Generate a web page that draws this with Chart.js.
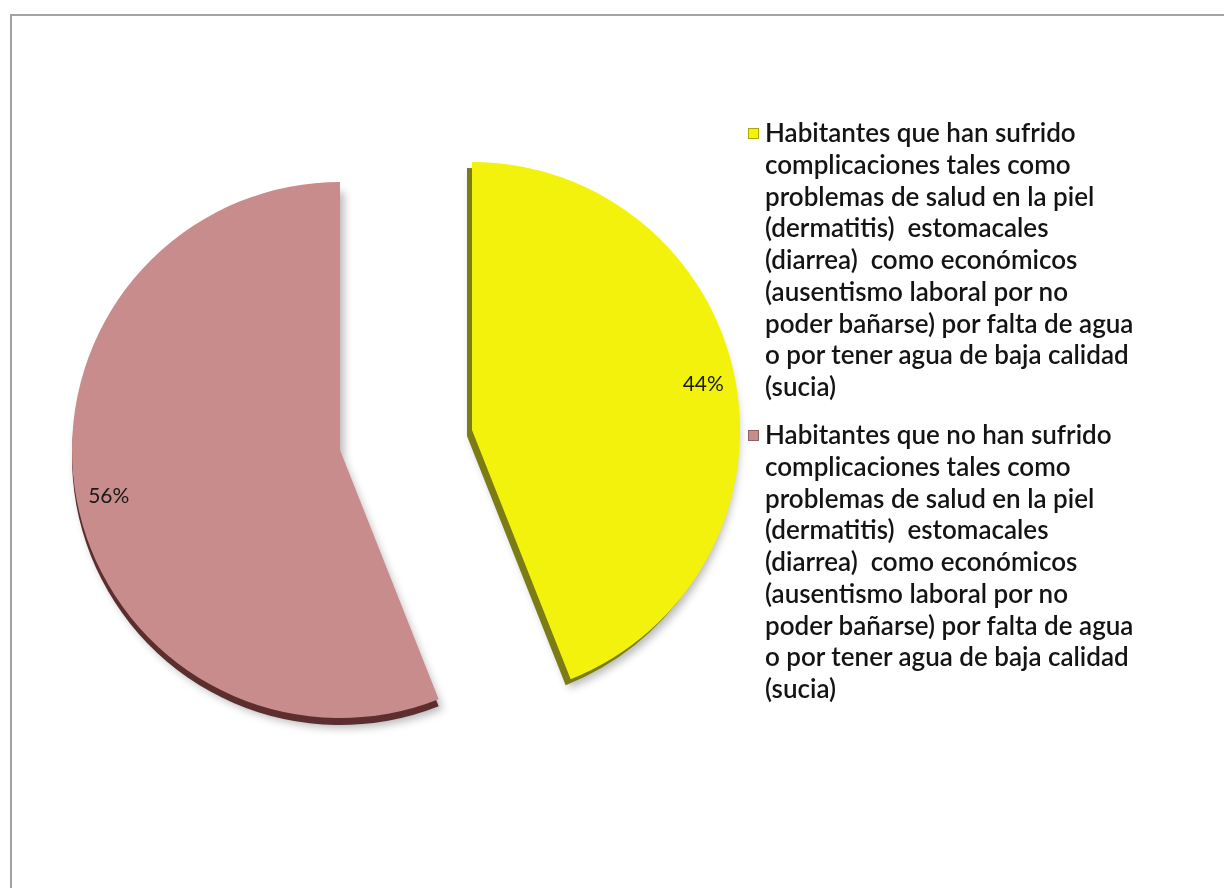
<!DOCTYPE html>
<html lang="es">
<head>
<meta charset="utf-8">
<title>Complicaciones por falta de agua</title>
<script src="https://cdn.jsdelivr.net/npm/chart.js@4.4.1/dist/chart.umd.min.js"></script>
<style>
    html, body { margin: 0; padding: 0; background: #fff; }
    body { width: 1224px; height: 888px; position: relative; overflow: hidden; }
    #frame {
        position: absolute; left: 10px; top: 14px; right: -10px; bottom: -10px;
        border-top: 2px solid #a3a3a3; border-left: 2px solid #a3a3a3;
    }
    .pieBox { position: absolute; left: 0; top: 0; width: 1224px; height: 888px; }
    #legend {
        position: absolute; left: 746px; top: 117px; margin: 0; padding: 0; list-style: none;
        font-family: Lato, "Noto Sans", sans-serif; font-size: 26px; font-weight: 600;
        line-height: 31.75px; color: #141414;
    }
    #legend li { position: relative; padding-left: 19px; margin-bottom: 16.25px; white-space: pre; }
    #legend .box {
        position: absolute; left: 2px; top: 11px; width: 9px; height: 9px;
        border: 1px solid rgba(0, 0, 0, 0.3);
    }
</style>
</head>
<body>
<div id="frame"></div>
<!-- una porción por lienzo: así cada una tiene su propio centro (pastel separado) -->
<div class="pieBox"><canvas id="slicePink"></canvas></div>
<div class="pieBox"><canvas id="sliceYellow"></canvas></div>
<ul id="legend"></ul>

<script>
// Datos de la encuesta (porcentaje de habitantes)
const categories = [
    ['Habitantes que han sufrido', 'complicaciones tales como', 'problemas de salud en la piel',
     '(dermatitis)  estomacales', '(diarrea)  como económicos', '(ausentismo laboral por no',
     'poder bañarse) por falta de agua', 'o por tener agua de baja calidad', '(sucia)'],
    ['Habitantes que no han sufrido', 'complicaciones tales como', 'problemas de salud en la piel',
     '(dermatitis)  estomacales', '(diarrea)  como económicos', '(ausentismo laboral por no',
     'poder bañarse) por falta de agua', 'o por tener agua de baja calidad', '(sucia)']
];
const percentages = [44, 56];

const sliceColors = ['#f2f20c', '#c98c8c'];
const depthColors = ['#7c7c14', '#5c2e2e'];
const depthShift = [[-5, 6], [0, 7]];

// Grosor del pastel: copia oscura de la porción visible, desplazada hacia abajo
const depthPlugin = {
    id: 'depth',
    beforeDatasetsDraw(chart, args, opts) {
        const ctx = chart.ctx;
        const i = opts.index;
        const arc = chart.getDatasetMeta(0).data[i];
        const [dx, dy] = depthShift[i];
        ctx.save();
        ctx.shadowColor = 'rgba(0, 0, 0, 0.28)';
        ctx.shadowBlur = 8;
        ctx.shadowOffsetX = 4;
        ctx.shadowOffsetY = 3;
        ctx.fillStyle = depthColors[i];
        ctx.beginPath();
        ctx.moveTo(arc.x + dx, arc.y + dy);
        ctx.arc(arc.x + dx, arc.y + dy, arc.outerRadius, arc.startAngle, arc.endAngle);
        ctx.closePath();
        ctx.fill();
        ctx.restore();
    }
};

// Porcentaje junto al borde interior de la porción
const percentLabel = {
    id: 'percentLabel',
    afterDatasetsDraw(chart, args, opts) {
        const ctx = chart.ctx;
        const arc = chart.getDatasetMeta(0).data[opts.index];
        const text = chart.data.datasets[0].data[opts.index] + '%';
        const mid = (arc.startAngle + arc.endAngle) / 2;
        ctx.save();
        ctx.font = '21px Lato, "Noto Sans", sans-serif';
        ctx.fillStyle = '#1a1a1a';
        ctx.textAlign = 'center';
        ctx.textBaseline = 'middle';
        const w = ctx.measureText(text).width;
        const edge = arc.outerRadius - 12;
        const x = arc.x + Math.cos(mid) * edge - Math.cos(mid) * w / 2;
        const y = arc.y + Math.sin(mid) * edge - Math.sin(mid) * 10;
        ctx.fillText(text, x, y);
        ctx.restore();
    }
};

function makeSliceChart(canvasId, index, padding) {
    const colors = sliceColors.map((c, i) => (i === index ? c : 'rgba(0,0,0,0)'));
    return new Chart(document.getElementById(canvasId), {
        type: 'pie',
        data: {
            labels: categories,
            datasets: [{ data: percentages, backgroundColor: colors, borderWidth: 0 }]
        },
        options: {
            responsive: true,
            maintainAspectRatio: false,
            animation: false,
            radius: 268,
            layout: { padding: padding },
            events: [],
            plugins: {
                legend: { display: false },
                tooltip: { enabled: false },
                depth: { index: index },
                percentLabel: { index: index }
            }
        },
        plugins: [depthPlugin, percentLabel]
    });
}

makeSliceChart('slicePink', 1, { left: 0, top: 12, right: 544, bottom: 0 });
makeSliceChart('sliceYellow', 0, { left: 0, top: 0, right: 280, bottom: 28 });

// Leyenda a la derecha, con las mismas categorías y colores
const legendList = document.getElementById('legend');
categories.forEach((lines, i) => {
    const li = document.createElement('li');
    const box = document.createElement('span');
    box.className = 'box';
    box.style.background = sliceColors[i];
    li.appendChild(box);
    li.appendChild(document.createTextNode(lines.join('\n')));
    legendList.appendChild(li);
});
</script>
</body>
</html>
